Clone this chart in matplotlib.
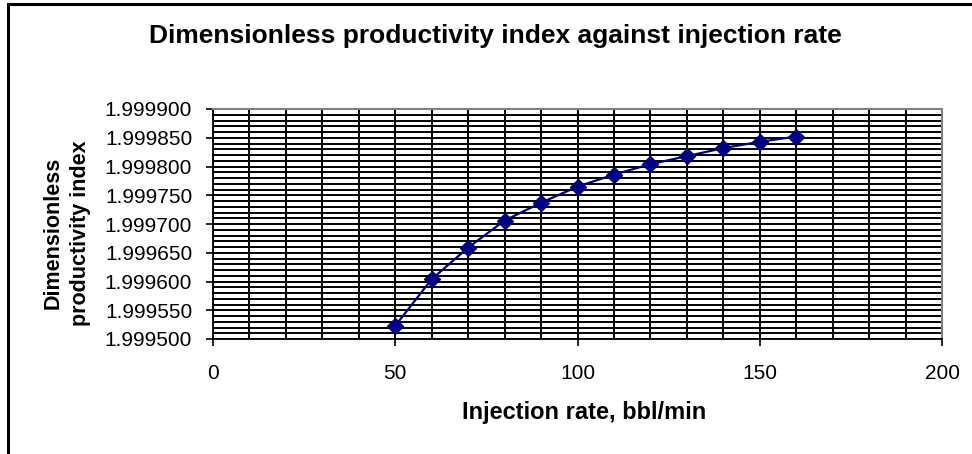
import numpy as np
import matplotlib
matplotlib.use('Agg')
import matplotlib.pyplot as plt
from matplotlib.ticker import MultipleLocator, FormatStrFormatter
from matplotlib.patches import Rectangle

plt.rcParams['font.family'] = 'Liberation Sans'

# injection rate (bbl/min) and dimensionless productivity index
rate = [50, 60, 70, 80, 90, 100, 110, 120, 130, 140, 150, 160]
pi_d = [1.999523, 1.999604, 1.999659, 1.999706, 1.999737, 1.999765,
        1.999786, 1.999804, 1.999818, 1.999832, 1.999843, 1.999852]

W, H = 972, 454
fig = plt.figure(figsize=(W / 100, H / 100), dpi=100)

# chart frame (only top/left edges fall inside the image)
fig.patches.append(Rectangle((8 / W, -0.05), 1.1, 1 - 4 / H + 0.05,
                             transform=fig.transFigure, fill=False,
                             edgecolor='black', linewidth=2.2))

left, right, top, bottom = 213, 942, 109, 339
ax = fig.add_axes([left / W, 1 - bottom / H, (right - left) / W, (bottom - top) / H])

ax.plot(rate, pi_d, color='#000080', linewidth=1.6, marker='D',
        markersize=8, markerfacecolor='#000080', markeredgecolor='#000080',
        zorder=5)

ax.set_xlim(0, 200)
ax.set_ylim(1.9995, 1.9999)
ax.xaxis.set_major_locator(MultipleLocator(50))
ax.xaxis.set_minor_locator(MultipleLocator(10))
ax.yaxis.set_major_locator(MultipleLocator(0.00005))
ax.yaxis.set_minor_locator(MultipleLocator(0.00001))
ax.yaxis.set_major_formatter(FormatStrFormatter('%.6f'))

ax.grid(True, which='both', color='black', linewidth=1.4)
ax.set_axisbelow(True)

ax.tick_params(which='major', direction='out', length=5, width=1.2,
               labelsize=15)
ax.tick_params(axis='y', which='major', pad=10)
ax.tick_params(axis='x', which='major', pad=13)
ax.tick_params(which='minor', length=0)

for s in ['top', 'right']:
    ax.spines[s].set_color('#808080')
    ax.spines[s].set_linewidth(1.5)
for s in ['left', 'bottom']:
    ax.spines[s].set_color('black')
    ax.spines[s].set_linewidth(1.3)

fig.text(584 / W, 1 - 412 / H, 'Injection rate, bbl/min',
         ha='center', va='center', fontsize=17, fontweight='bold')
fig.text(67 / W, 1 - 233 / H, 'Dimensionless\nproductivity index',
         ha='center', va='center', rotation=90, fontsize=15.5,
         fontweight='bold', linespacing=1.4)

fig.text(495 / W, 1 - 36 / H, 'Dimensionless productivity index against injection rate',
         ha='center', va='center', fontsize=19, fontweight='bold')

fig.savefig('out.png', dpi=100)
